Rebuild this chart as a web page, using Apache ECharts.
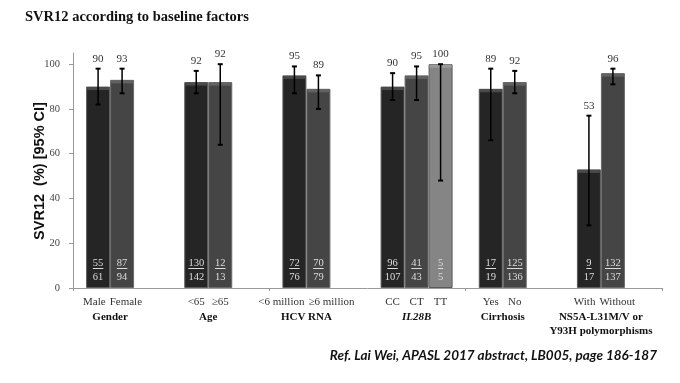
<!DOCTYPE html>
<html>
<head>
<meta charset="utf-8">
<script src="https://cdn.jsdelivr.net/npm/echarts@6/dist/echarts.min.js"></script>
<style>
html,body{margin:0;padding:0;background:#fff;}
#chart{width:680px;height:383px;}
</style>
</head>
<body>
<div id="chart"></div>
<script>
// ---------- DATA ----------
const categories = ['Gender', 'Age', 'HCV RNA', 'IL28B', 'Cirrhosis', 'NS5A-L31M/V or\nY93H polymorphisms'];
const yTicks = [0, 20, 40, 60, 80, 100];

const s1Names = ['Male', '<65', '<6 million', 'CC', 'Yes', 'With'];
const s2Names = ['Female', '≥65', '≥6 million', 'CT', 'No', 'Without'];
const s3Names = [null, null, null, 'TT', null, null];

const s1Values = [90, 92, 95, 90, 89, 53];
const s2Values = [93, 92, 89, 95, 92, 96];
const s3Values = [null, null, null, 100, null, null];

const s1Low  = [82, 87, 87, 84, 66, 28];
const s1High = [98, 97, 99, 96, 98, 77];
const s2Low  = [87, 64, 80, 84, 87, 91];
const s2High = [98, 100, 95, 99, 97, 98];
const s3Low  = [null, null, null, 48, null, null];
const s3High = [null, null, null, 100, null, null];

const s1Num = [55, 130, 72, 96, 17, 9];
const s1Den = [61, 142, 76, 107, 19, 17];
const s2Num = [87, 12, 70, 41, 125, 132];
const s2Den = [94, 13, 79, 43, 136, 137];
const s3Num = [null, null, null, 5, null, null];
const s3Den = [null, null, null, 5, null, null];

const titleText = 'SVR12 according to baseline factors';
const yAxisTitle = 'SVR12  (%) [95% CI]';
const footnote = 'Ref. Lai Wei, APASL 2017 abstract, LB005, page 186-187';

// ---------- STYLE ----------
const BAR_W = 24;
const SERIF = '"Liberation Serif", "Times New Roman", serif';
const italicGroups = new Set(['IL28B']);
const seriesColors = [
  {fill: '#252525', top: '#4a4a4a', border: '#5c5c5c'},
  {fill: '#454545', top: '#626262', border: '#6a6a6a'},
  {fill: '#858585', top: '#9a9a9a', border: '#5a5a5a'}
];

const measureCtx = document.createElement('canvas').getContext('2d');
function textW(t, font) { measureCtx.font = font; return measureCtx.measureText(t).width; }

function barSeries(vals, k) {
  return {
    type: 'bar', data: vals, barWidth: BAR_W, barGap: '0%',
    itemStyle: {
      color: seriesColors[k].fill,
      borderColor: seriesColors[k].border, borderWidth: 1
    },
    z: 2
  };
}

function annoSeries(slot, vals, lows, highs, nums, dens) {
  const data = [];
  vals.forEach((v, i) => { if (v != null) data.push([i, lows[i], highs[i], v, nums[i], dens[i]]); });
  return {
    type: 'custom', data, z: 5, clip: false, silent: true,
    encode: {x: 0, y: [1, 2]},
    renderItem: (params, api) => {
      const i = api.value(0);
      const off = (slot - 1) * BAR_W;
      const top = api.coord([i, api.value(2)]);
      const bot = api.coord([i, api.value(1)]);
      const base = api.coord([i, 0]);
      const barTop = api.coord([i, api.value(3)]);
      const x = top[0] + off;
      const numStr = String(api.value(4));
      const denStr = String(api.value(5));
      const nFont = '10.5px ' + SERIF;
      const uw = textW(numStr, nFont);
      return {
        type: 'group', children: [
          // lighter top band of the bar (3D look)
          {type: 'rect', shape: {x: x - BAR_W / 2 + 1, y: barTop[1] + 0.5, width: BAR_W - 2, height: 3},
            style: {fill: seriesColors[slot].top}, z2: -1},
          {type: 'line', shape: {x1: x, y1: top[1], x2: x, y2: bot[1]}, style: {stroke: '#000', lineWidth: 1.5}},
          {type: 'line', shape: {x1: x - 2.5, y1: top[1], x2: x + 2.5, y2: top[1]}, style: {stroke: '#000', lineWidth: 2}},
          {type: 'line', shape: {x1: x - 2.5, y1: bot[1], x2: x + 2.5, y2: bot[1]}, style: {stroke: '#000', lineWidth: 2}},
          {type: 'text', style: {text: String(api.value(3)), x: x, y: top[1] - 10, align: 'center', verticalAlign: 'middle', font: '11px ' + SERIF, fill: '#333'}},
          {type: 'text', style: {text: numStr, x: x, y: base[1] - 25, align: 'center', verticalAlign: 'middle', font: nFont, fill: '#dcdcdc'}},
          {type: 'line', shape: {x1: x - uw / 2, y1: base[1] - 19.5, x2: x + uw / 2, y2: base[1] - 19.5}, style: {stroke: '#dcdcdc', lineWidth: 1}},
          {type: 'text', style: {text: denStr, x: x, y: base[1] - 11, align: 'center', verticalAlign: 'middle', font: nFont, fill: '#dcdcdc'}}
        ]
      };
    }
  };
}

const groupSeries = {
  type: 'custom', z: 5, clip: false, silent: true,
  data: categories.map((c, i) => [i, 0]),
  encode: {x: 0, y: 1},
  renderItem: (params, api) => {
    const i = api.value(0);
    const p = api.coord([i, 0]);
    const names = [s1Names[i], s2Names[i], s3Names[i]].filter(n => n != null);
    const nb = names.length;
    const subFont = '11px ' + SERIF;
    const xs = names.map((n, k) => p[0] + (k - 1) * BAR_W);
    const ws = names.map(n => textW(n, subFont));
    for (let k = 0; k < nb - 1; k++) {
      const need = (ws[k] + ws[k + 1]) / 2 + 4 - (xs[k + 1] - xs[k]);
      if (need > 0) { xs[k] -= need / 2; xs[k + 1] += need / 2; }
    }
    const cx = p[0] - (3 - nb) * BAR_W / 2;
    const children = names.map((n, k) => ({
      type: 'text', style: {text: n, x: xs[k], y: p[1] + 14, align: 'center', verticalAlign: 'middle', font: subFont, fill: '#333'}
    }));
    const it = italicGroups.has(categories[i]);
    children.push({
      type: 'text', style: {text: categories[i], x: cx, y: p[1] + 22, align: 'center', verticalAlign: 'top',
        font: (it ? 'italic ' : '') + 'bold 11px ' + SERIF, lineHeight: 14, fill: '#111'}
    });
    return {type: 'group', children};
  }
};

const chart = echarts.init(document.getElementById('chart'), null, {renderer: 'canvas'});
chart.setOption({
  animation: false,
  backgroundColor: '#fff',
  grid: {left: 73, right: 18, top: 53, bottom: 95, containLabel: false},
  title: {text: titleText, left: 25, top: 10, padding: 0,
    textStyle: {fontFamily: SERIF, fontWeight: 'bold', fontSize: 14.5, color: '#111'}},
  graphic: [
    {type: 'text', x: 40, y: 171, rotation: Math.PI / 2,
      style: {text: yAxisTitle, align: 'center', verticalAlign: 'middle', font: 'bold 14.5px "Liberation Sans", Arial, sans-serif', fill: '#111'}},
    {type: 'text', right: 23, top: 349,
      style: {text: footnote, font: 'italic bold 13.5px Lato, "Liberation Sans", sans-serif', fill: '#111'}}
  ],
  xAxis: {
    type: 'category', data: categories,
    axisLine: {lineStyle: {color: '#999'}},
    axisTick: {show: true, length: 3, lineStyle: {color: '#999'}},
    axisLabel: {show: false},
    splitLine: {show: false}
  },
  yAxis: {
    type: 'value', min: 0, max: 105, interval: 20,
    axisLine: {show: true, lineStyle: {color: '#999'}},
    axisTick: {show: true, length: 4, lineStyle: {color: '#999'}, customValues: yTicks},
    axisLabel: {fontFamily: SERIF, fontSize: 10.5, color: '#444', margin: 13, customValues: yTicks},
    splitLine: {show: false}
  },
  series: [
    barSeries(s1Values, 0),
    barSeries(s2Values, 1),
    barSeries(s3Values, 2),
    annoSeries(0, s1Values, s1Low, s1High, s1Num, s1Den),
    annoSeries(1, s2Values, s2Low, s2High, s2Num, s2Den),
    annoSeries(2, s3Values, s3Low, s3High, s3Num, s3Den),
    groupSeries
  ]
});
</script>
</body>
</html>
